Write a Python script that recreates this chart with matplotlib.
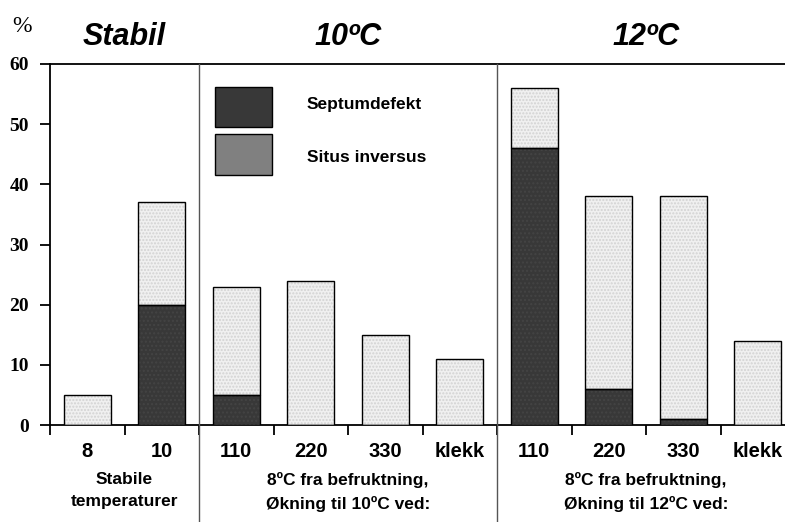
import matplotlib
matplotlib.use('Agg')
import matplotlib.pyplot as plt
import numpy as np
from matplotlib.font_manager import fontManager

cats = ['8', '10', '110', '220', '330', 'klekk', '110', '220', '330', 'klekk']
total = [5, 37, 23, 24, 15, 11, 56, 38, 38, 14]
septum = [0, 20, 5, 0, 0, 0, 46, 6, 1, 0]
groups = ['Stabil', '10\u00baC', '12\u00baC']
group_labels = ['Stabile\ntemperaturer',
                '8\u00baC fra befruktning,\n\u00d8kning til 10\u00baC ved:',
                '8\u00baC fra befruktning,\n\u00d8kning til 12\u00baC ved:']
yticks = [0, 10, 20, 30, 40, 50, 60]

names = set(f.name for f in fontManager.ttflist)
narrow = 'Liberation Sans Narrow' if 'Liberation Sans Narrow' in names else 'Liberation Sans'
serif = 'Liberation Serif'

dark = '#383838'
light = '#f0f0f0'
mid = '#808080'

fig = plt.figure(figsize=(7.85, 5.22), dpi=100)
ax = fig.add_axes([50/785, 97/522, 745/785, 361/522])

x = np.arange(len(cats)) + 0.5
rest = np.array(total) - np.array(septum)
ax.bar(x, septum, width=0.63, color=dark, edgecolor='#444444', lw=0, hatch='....', zorder=3)
ax.bar(x, rest, bottom=septum, width=0.63, color=light, edgecolor='#d2d2d2', lw=0,
       hatch='.....', zorder=3)
# outlines
ax.bar(x, septum, width=0.63, fill=False, edgecolor='black', lw=1, zorder=4)
ax.bar(x, rest, bottom=septum, width=0.63, fill=False, edgecolor='black', lw=1, zorder=4)

ax.set_xlim(0, 10)
ax.set_ylim(0, 60)
ax.spines['right'].set_visible(False)
ax.spines['top'].set_linewidth(1.3)
ax.spines['bottom'].set_linewidth(1.3)
ax.spines['left'].set_linewidth(1.3)

ax.set_yticks(yticks)
ax.set_yticklabels([str(v) for v in yticks], fontfamily=serif, fontweight='bold', fontsize=14)
ax.tick_params(axis='y', direction='out', length=7, width=1.3, pad=8)

ax.set_xticks(np.arange(0, 11))
ax.set_xticklabels([])
ax.tick_params(axis='x', direction='out', length=7, width=1.3)
for xi, c in zip(x, cats):
    ax.text(xi, -2.9, c, ha='center', va='top', fontfamily=narrow, fontweight='bold',
            fontsize=14.5)

# group separators
for xd in [2, 6]:
    ax.plot([xd, xd], [60, -17], color='#555555', lw=1, clip_on=False, zorder=4)

gx = [1, 4, 8]
for g, gl, xi in zip(groups, group_labels, gx):
    ax.text(xi, 64.5, g, ha='center', va='center', fontfamily=narrow, fontweight='bold',
            fontstyle='italic', fontsize=22)
    ax.text(xi, -7.8, gl, ha='center', va='top', fontfamily=narrow, fontweight='bold',
            fontsize=12.5, linespacing=1.6)

ax.text(-0.37, 66.3, '%', ha='center', va='center', fontfamily=serif, fontsize=17)

# legend
ax.add_patch(plt.Rectangle((2.22, 49.5), 0.76, 6.6, facecolor=dark, edgecolor='black',
                           lw=1, zorder=3))
ax.add_patch(plt.Rectangle((2.22, 41.5), 0.76, 6.8, facecolor=mid, edgecolor='black',
                           lw=1, zorder=3))
ax.text(3.45, 53.2, 'Septumdefekt', va='center', ha='left', fontfamily=narrow,
        fontweight='bold', fontsize=12.5)
ax.text(3.45, 44.5, 'Situs inversus', va='center', ha='left', fontfamily=narrow,
        fontweight='bold', fontsize=12.5)

fig.savefig('out.png', dpi=100)
